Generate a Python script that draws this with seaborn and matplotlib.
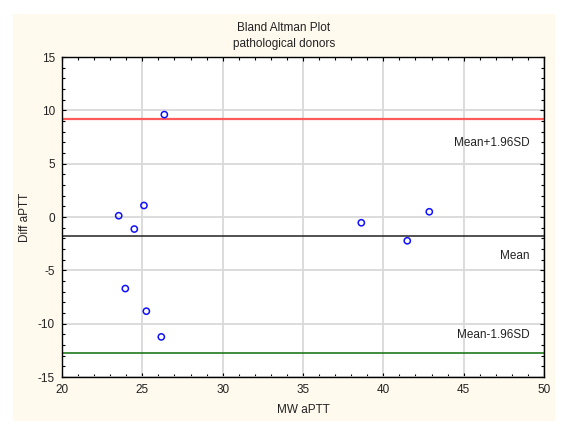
import matplotlib
matplotlib.use("Agg")
import matplotlib.pyplot as plt
from matplotlib.patches import Rectangle
from matplotlib.ticker import MultipleLocator
import seaborn as sns
import pandas as pd

# data
mw_aptt = [26.37, 25.10, 23.53, 24.50, 23.94, 25.25, 26.18, 38.63, 42.86, 41.49]
diff_aptt = [9.60, 1.08, 0.12, -1.13, -6.71, -8.83, -11.24, -0.54, 0.49, -2.23]
mean_diff = -1.76
upper_loa = 9.23
lower_loa = -12.78
line_labels = ["Mean+1.96SD", "Mean", "Mean-1.96SD"]
label_y = [6.97, -3.64, -11.06]
x_ticks = [20, 25, 30, 35, 40, 45, 50]
y_ticks = [-15, -10, -5, 0, 5, 10, 15]

df = pd.DataFrame({"MW aPTT": mw_aptt, "Diff aPTT": diff_aptt})

sns.set_theme(style="white")
plt.rcParams["font.family"] = ["Liberation Sans", "DejaVu Sans"]
plt.rcParams["axes.unicode_minus"] = False

W, H = 583, 429
fig = plt.figure(figsize=(W / 100, H / 100), dpi=100, facecolor="white")
bg = Rectangle((13 / W, 1 - 421 / H), (555 - 13) / W, (421 - 14) / H,
               transform=fig.transFigure, facecolor="#FFF9EE",
               edgecolor="none", zorder=-10)
fig.patches.append(bg)
ax = fig.add_axes([62 / W, 1 - 377 / H, (544 - 62) / W, (377 - 57) / H])
ax.set_zorder(5)
ax.set_facecolor("white")

ax.axhline(upper_loa, color="#FF5A5A", lw=1.6, zorder=2)
ax.axhline(mean_diff, color="#333333", lw=1.2, zorder=2)
ax.axhline(lower_loa, color="#1E7A1E", lw=1.2, zorder=2)

sns.scatterplot(data=df, x="MW aPTT", y="Diff aPTT", ax=ax, marker="o", s=20,
                facecolor="none", edgecolor="#1010FF", linewidth=1.1, zorder=3)

for txt, yv in zip(line_labels, label_y):
    ax.text(49.1, yv, txt, ha="right", va="center", fontsize=8.5, color="#222222")

ax.set_xlim(20, 50)
ax.set_ylim(-15, 15)
ax.set_xticks(x_ticks)
ax.set_yticks(y_ticks)
ax.xaxis.set_minor_locator(MultipleLocator(1))
ax.yaxis.set_minor_locator(MultipleLocator(1))
ax.grid(True, which="major", color="#D9D9D9", lw=1.3)
ax.set_axisbelow(True)
ax.tick_params(which="both", direction="in", top=True, right=True, bottom=True, left=True,
               color="black", width=0.8)
ax.tick_params(which="major", length=3, labelsize=8.5, pad=5, labelcolor="#222222")
ax.tick_params(which="minor", length=2)
for sp in ax.spines.values():
    sp.set_color("black")
    sp.set_linewidth(1.0)
    sp.set_visible(True)

ax.set_xlabel("MW aPTT", fontsize=8.5, labelpad=6, color="#222222")
ax.set_ylabel("Diff aPTT", fontsize=8.5, labelpad=5, color="#222222")

fig.text(284 / W, 1 - 28 / H, "Bland Altman Plot", ha="center", va="center", fontsize=8.5, color="#222222")
fig.text(284 / W, 1 - 44 / H, "pathological donors", ha="center", va="center", fontsize=8.5, color="#222222")

fig.savefig("out.png", dpi=100, facecolor="white")
